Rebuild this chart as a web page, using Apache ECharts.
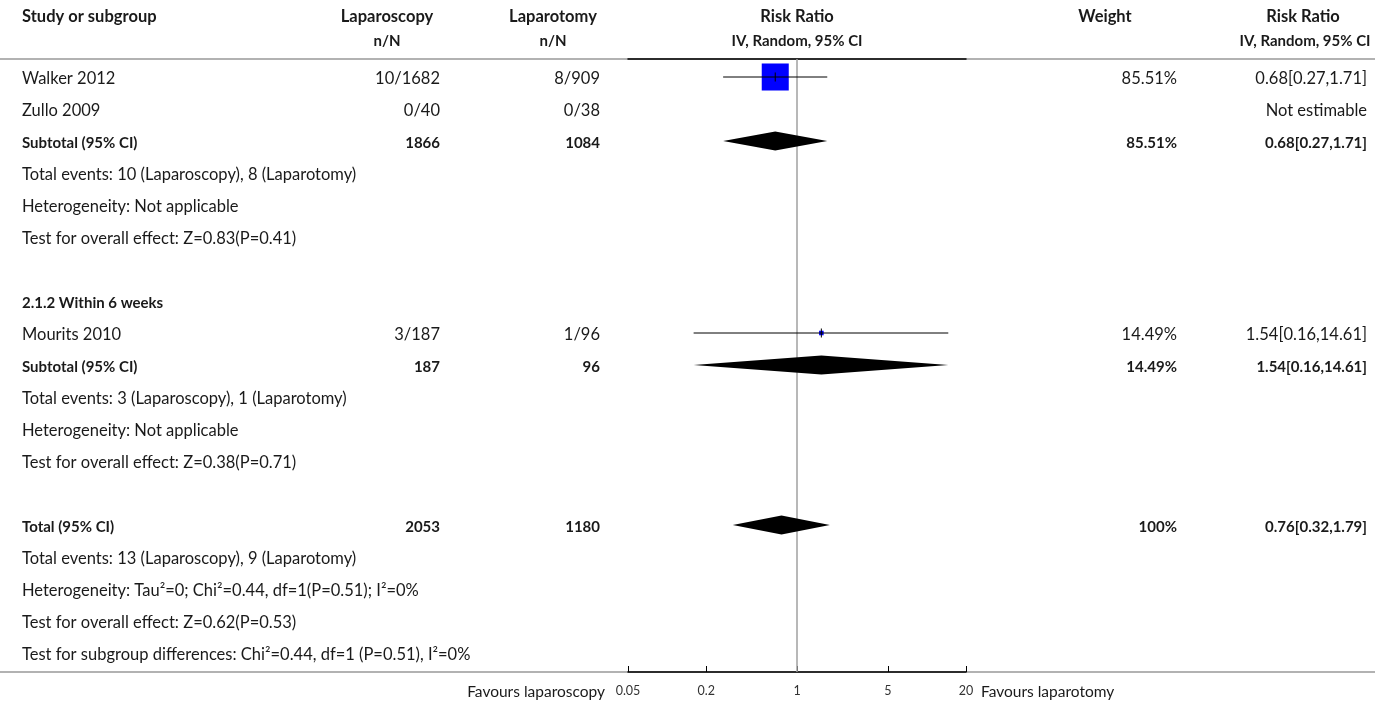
<!DOCTYPE html>
<html><head><meta charset="utf-8">
<script src="https://cdn.jsdelivr.net/npm/echarts@6/dist/echarts.min.js"></script>
<style>html,body{margin:0;padding:0;background:#fff}#c{width:1375px;height:707px}</style>
</head><body><div id="c"></div>
<script>
const rowLabels = [
  'Walker 2012','Zullo 2009','Subtotal (95% CI)',
  'Total events: 10 (Laparoscopy), 8 (Laparotomy)',
  'Heterogeneity: Not applicable',
  'Test for overall effect: Z=0.83(P=0.41)',
  '',
  '2.1.2 Within 6 weeks',
  'Mourits 2010','Subtotal (95% CI)',
  'Total events: 3 (Laparoscopy), 1 (Laparotomy)',
  'Heterogeneity: Not applicable',
  'Test for overall effect: Z=0.38(P=0.71)',
  '',
  'Total (95% CI)',
  'Total events: 13 (Laparoscopy), 9 (Laparotomy)',
  'Heterogeneity: Tau\u00b2=0; Chi\u00b2=0.44, df=1(P=0.51); I\u00b2=0%',
  'Test for overall effect: Z=0.62(P=0.53)',
  'Test for subgroup differences: Chi\u00b2=0.44, df=1 (P=0.51), I\u00b2=0%'
];
const boldRows = [2, 7, 9, 14];
const lapValues = ['10/1682','0/40','1866','','','','','','3/187','187','','','','','2053','','','',''];
const lotValues = ['8/909','0/38','1084','','','','','','1/96','96','','','','','1180','','','',''];
const weightLabels = ['85.51%','','85.51%','','','','','','14.49%','14.49%','','','','','100%','','','',''];
const ciLabels = ['0.68[0.27,1.71]','Not estimable','0.68[0.27,1.71]','','','','','','1.54[0.16,14.61]','1.54[0.16,14.61]','','','','','0.76[0.32,1.79]','','','',''];

const studyRows = [0, 8];
const studyEst = [0.68, 1.54];
const studyLow = [0.27, 0.16];
const studyHigh = [1.71, 14.61];
const studyWeight = [85.51, 14.49];

const poolRows = [2, 9, 14];
const poolEst = [0.68, 1.54, 0.76];
const poolLow = [0.27, 0.16, 0.32];
const poolHigh = [1.71, 14.61, 1.79];

const tickValues = [0.05, 0.2, 1, 5, 20];
const tickLabels = ['0.05', '0.2', '1', '5', '20'];

const L = v => Math.log10(v);
const FONT = 'Lato';
const FS = 16.5;
const FSB = 15;
const FSH = 16.5;
const FSH2 = 15;
const TXT = '#1a1a1a';
const yMin = -0.5625, yMax = 18.59375;

const chart = echarts.init(document.getElementById('c'), null, {renderer: 'canvas'});

const textData = rowLabels.map((s, i) => [0, i]);
const hdr = (x, y, t, align, fs) => ({type: 'text', x: x, y: y, style: {text: t, font: 'bold ' + fs + 'px ' + FONT, fill: TXT, textAlign: align, textVerticalAlign: 'middle'}});

const option = {
  animation: false,
  backgroundColor: '#fff',
  grid: {left: 628, width: 338, top: 59, height: 613},
  xAxis: [{
    type: 'value', min: L(tickValues[0]), max: L(tickValues[tickValues.length - 1]),
    position: 'bottom',
    axisLine: {show: true, onZero: false, lineStyle: {color: '#000', width: 1.5}},
    axisTick: {show: true, inside: true, length: 6, lineStyle: {color: '#000', width: 1}, customValues: tickValues.map(L)},
    axisLabel: {show: true, customValues: tickValues.map(L), margin: 12, fontSize: 12.5, color: '#333', fontFamily: FONT,
      formatter: v => { const k = tickValues.findIndex(t => Math.abs(L(t) - v) < 1e-6); return k >= 0 ? tickLabels[k] : ''; }},
    splitLine: {show: false}
  }, {
    type: 'value', min: L(tickValues[0]), max: L(tickValues[tickValues.length - 1]),
    position: 'top',
    axisLine: {show: true, onZero: false, lineStyle: {color: '#000', width: 1.5}},
    axisTick: {show: false}, axisLabel: {show: false}, splitLine: {show: false}
  }],
  yAxis: {type: 'value', inverse: true, min: yMin, max: yMax, show: false},
  graphic: [
    {type: 'line', shape: {x1: 0, y1: 59, x2: 1375, y2: 59}, style: {stroke: '#999', lineWidth: 1.5}, z: -1},
    {type: 'line', shape: {x1: 0, y1: 672, x2: 1375, y2: 672}, style: {stroke: '#999', lineWidth: 1.5}, z: -1},
    hdr(22, 17, 'Study or subgroup', 'left', FSH),
    hdr(387, 17, 'Laparoscopy', 'center', FSH),
    hdr(387, 41, 'n/N', 'center', FSH2),
    hdr(553, 17, 'Laparotomy', 'center', FSH),
    hdr(553, 41, 'n/N', 'center', FSH2),
    hdr(797, 17, 'Risk Ratio', 'center', FSH),
    hdr(797, 41, 'IV, Random, 95% CI', 'center', FSH2),
    hdr(1105, 17, 'Weight', 'center', FSH),
    hdr(1303, 17, 'Risk Ratio', 'center', FSH),
    hdr(1305, 41, 'IV, Random, 95% CI', 'center', FSH2),
    {type: 'text', x: 605, y: 692, style: {text: 'Favours laparoscopy', font: '15.5px ' + FONT, fill: TXT, textAlign: 'right', textVerticalAlign: 'middle'}},
    {type: 'text', x: 981, y: 692, style: {text: 'Favours laparotomy', font: '15.5px ' + FONT, fill: TXT, textAlign: 'left', textVerticalAlign: 'middle'}}
  ],
  series: [
    {
      type: 'custom', name: 'null', clip: false, z: 1,
      data: [[0]],
      renderItem: (params, api) => {
        const a = api.coord([api.value(0), yMin]);
        const b = api.coord([api.value(0), yMax]);
        return {type: 'line', shape: {x1: a[0], y1: a[1], x2: b[0], y2: b[1]}, style: {stroke: '#a0a0a0', lineWidth: 1.5}};
      }
    },
    {
      type: 'custom', name: 'studies', clip: false, z: 3,
      data: studyRows.map((r, i) => [L(studyLow[i]), L(studyHigh[i]), L(studyEst[i]), r, studyWeight[i]]),
      renderItem: (params, api) => {
        const lo = api.coord([api.value(0), api.value(3)]);
        const hi = api.coord([api.value(1), api.value(3)]);
        const c = api.coord([api.value(2), api.value(3)]);
        const side = api.value(4) * 0.316;
        return {type: 'group', children: [
          {type: 'rect', shape: {x: c[0] - side / 2, y: c[1] - side / 2, width: side, height: side}, style: {fill: '#0000ff'}},
          {type: 'line', shape: {x1: lo[0], y1: lo[1], x2: hi[0], y2: hi[1]}, style: {stroke: '#000', lineWidth: 1}},
          {type: 'line', shape: {x1: c[0], y1: c[1] - 4.5, x2: c[0], y2: c[1] + 4.5}, style: {stroke: '#000', lineWidth: 1}}
        ]};
      }
    },
    {
      type: 'custom', name: 'pooled', clip: false, z: 3,
      data: poolRows.map((r, i) => [L(poolLow[i]), L(poolHigh[i]), L(poolEst[i]), r]),
      renderItem: (params, api) => {
        const lo = api.coord([api.value(0), api.value(3)]);
        const hi = api.coord([api.value(1), api.value(3)]);
        const c = api.coord([api.value(2), api.value(3)]);
        const h = 9.5;
        return {type: 'polygon', shape: {points: [[lo[0], lo[1]], [c[0], c[1] - h], [hi[0], hi[1]], [c[0], c[1] + h]]}, style: {fill: '#000'}};
      }
    },
    {
      type: 'custom', name: 'table', clip: false, z: 4,
      data: textData,
      renderItem: (params, api) => {
        const i = params.dataIndex;
        const y = api.coord([0, api.value(1)])[1] + 2;
        const font = boldRows.includes(i) ? ('bold ' + FSB + 'px ' + FONT) : (FS + 'px ' + FONT);
        const mk = (x, t, align) => ({type: 'text', x: x, y: y, style: {text: t, font: font, fill: TXT, textAlign: align, textVerticalAlign: 'middle'}});
        return {type: 'group', children: [
          mk(22, rowLabels[i], 'left'),
          mk(440, lapValues[i], 'right'),
          mk(600, lotValues[i], 'right'),
          mk(1177, weightLabels[i], 'right'),
          mk(1367, ciLabels[i], 'right')
        ]};
      }
    }
  ]
};
chart.setOption(option);
</script>
</body></html>
